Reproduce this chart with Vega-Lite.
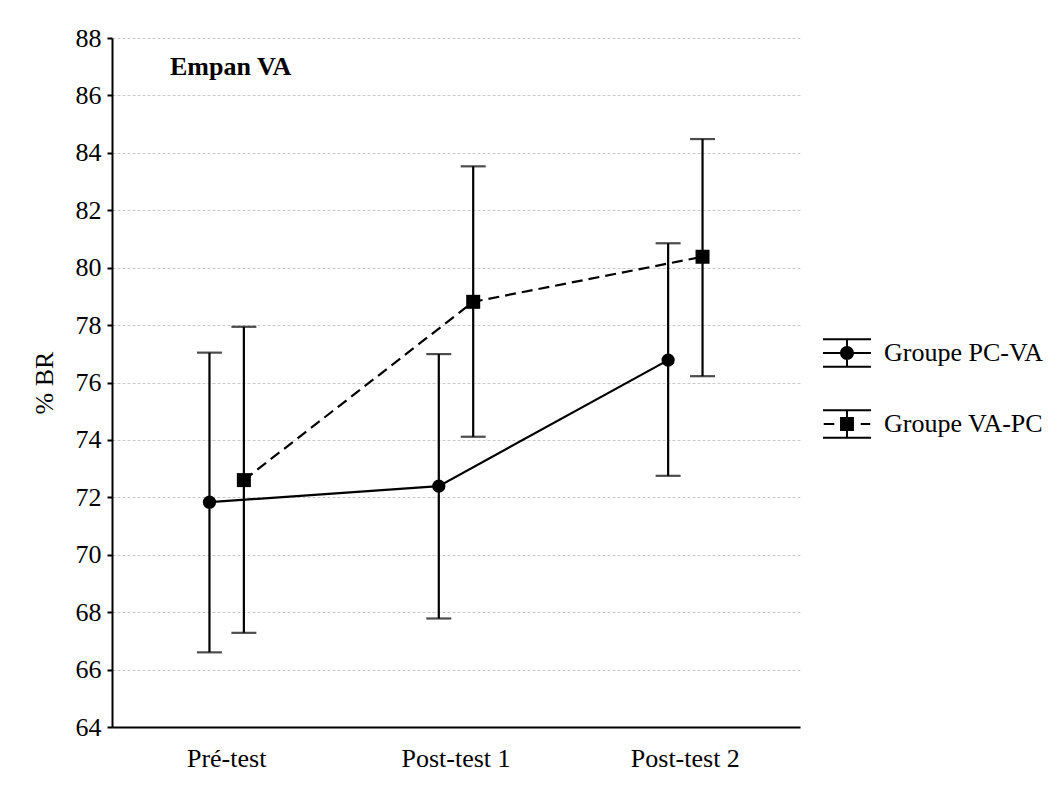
{
  "$schema": "https://vega.github.io/schema/vega-lite/v6.json",
  "width": 688,
  "height": 689,
  "autosize": "none",
  "padding": {"left": 112, "top": 38, "right": 261, "bottom": 69},
  "background": "white",
  "title": {
    "text": "Empan VA",
    "anchor": "start",
    "frame": "group",
    "font": "Liberation Serif",
    "fontSize": 26,
    "fontWeight": "bold",
    "color": "black",
    "baseline": "alphabetic",
    "offset": 0,
    "dx": 58,
    "dy": 76
  },
  "data": {
    "values": [
      {"test": "Pré-test", "group": "Groupe PC-VA", "mean": 71.83, "lo": 66.6, "hi": 77.04},
      {"test": "Post-test 1", "group": "Groupe PC-VA", "mean": 72.39, "lo": 67.78, "hi": 76.99},
      {"test": "Post-test 2", "group": "Groupe PC-VA", "mean": 76.78, "lo": 72.75, "hi": 80.85},
      {"test": "Pré-test", "group": "Groupe VA-PC", "mean": 72.6, "lo": 67.28, "hi": 77.94},
      {"test": "Post-test 1", "group": "Groupe VA-PC", "mean": 78.81, "lo": 74.11, "hi": 83.53},
      {"test": "Post-test 2", "group": "Groupe VA-PC", "mean": 80.38, "lo": 76.22, "hi": 84.48}
    ]
  },
  "encoding": {
    "x": {
      "field": "test",
      "type": "nominal",
      "sort": ["Pré-test", "Post-test 1", "Post-test 2"],
      "scale": {"paddingInner": 0.7, "paddingOuter": 0.35},
      "axis": {
        "title": null,
        "labelAngle": 0,
        "labelFont": "Liberation Serif",
        "labelFontSize": 26,
        "labelColor": "black",
        "labelPadding": 18,
        "ticks": false,
        "domainColor": "black",
        "domainWidth": 2,
        "grid": false
      }
    },
    "xOffset": {
      "field": "group",
      "type": "nominal",
      "sort": ["Groupe PC-VA", "Groupe VA-PC"],
      "scale": {"paddingInner": 0, "paddingOuter": 0}
    }
  },
  "layer": [
    {
      "transform": [{"filter": "datum.group === 'Groupe PC-VA'"}],
      "mark": {"type": "line", "color": "black", "strokeWidth": 2.2},
      "encoding": {
        "y": {
          "field": "mean",
          "type": "quantitative",
          "scale": {"domain": [64, 88], "nice": false, "zero": false},
          "axis": {
            "title": "% BR",
            "titleFont": "Liberation Serif",
            "titleFontSize": 26,
            "titleFontWeight": "normal",
            "titleColor": "black",
            "titlePadding": 18,
            "values": [64, 66, 68, 70, 72, 74, 76, 78, 80, 82, 84, 86, 88],
            "labelFont": "Liberation Serif",
            "labelFontSize": 26,
            "labelColor": "black",
            "labelPadding": 6,
            "tickColor": "black",
            "tickWidth": 2,
            "tickSize": 5,
            "domainColor": "black",
            "domainWidth": 2,
            "grid": true,
            "gridColor": "#c8c8c8",
            "gridDash": [3, 2],
            "gridWidth": 1
          }
        }
      }
    },
    {
      "transform": [{"filter": "datum.group === 'Groupe VA-PC'"}],
      "mark": {"type": "line", "color": "black", "strokeWidth": 2.2, "strokeDash": [11, 6]},
      "encoding": {"y": {"field": "mean", "type": "quantitative"}}
    },
    {
      "mark": {"type": "rule", "color": "black", "strokeWidth": 2.2},
      "encoding": {
        "y": {"field": "lo", "type": "quantitative"},
        "y2": {"field": "hi"}
      }
    },
    {
      "mark": {"type": "tick", "color": "black", "thickness": 2.2, "size": 25, "orient": "horizontal"},
      "encoding": {"y": {"field": "lo", "type": "quantitative"}}
    },
    {
      "mark": {"type": "tick", "color": "black", "thickness": 2.2, "size": 25, "orient": "horizontal"},
      "encoding": {"y": {"field": "hi", "type": "quantitative"}}
    },
    {
      "transform": [{"filter": "datum.group === 'Groupe PC-VA'"}],
      "mark": {"type": "point", "shape": "circle", "filled": true, "color": "black", "opacity": 1, "size": 175},
      "encoding": {"y": {"field": "mean", "type": "quantitative"}}
    },
    {
      "transform": [{"filter": "datum.group === 'Groupe VA-PC'"}],
      "mark": {"type": "point", "shape": "square", "filled": true, "color": "black", "opacity": 1, "size": 196},
      "encoding": {"y": {"field": "mean", "type": "quantitative"}}
    },
    {
      "mark": {"type": "point", "filled": true, "color": "black", "opacity": 0, "size": 100},
      "encoding": {
        "y": {"field": "mean", "type": "quantitative"},
        "shape": {
          "field": "group",
          "type": "nominal",
          "scale": {
            "domain": ["Groupe PC-VA", "Groupe VA-PC"],
            "range": [
              "M-1,-0.61H1V-0.53H-1ZM-1,0.53H1V0.61H-1ZM-1,-0.04H1V0.04H-1ZM-0.04,-0.57H0.04V0.57H-0.04ZM0.29,0A0.29,0.29 0 1,1 -0.29,0A0.29,0.29 0 1,1 0.29,0Z",
              "M-1,-0.61H1V-0.53H-1ZM-1,0.53H1V0.61H-1ZM-0.97,-0.04H-0.53V0.04H-0.97ZM0.57,-0.04H0.97V0.04H0.57ZM-0.04,-0.57H0.04V0.57H-0.04ZM-0.29,-0.29H0.29V0.29H-0.29Z"
            ]
          },
          "legend": {
            "title": null,
            "orient": "none",
            "legendX": 710,
            "legendY": 290,
            "symbolSize": 2304,
            "symbolOpacity": 1,
            "symbolFillColor": "black",
            "labelFont": "Liberation Serif",
            "labelFontSize": 26,
            "labelColor": "black",
            "labelOffset": 12,
            "rowPadding": 28,
            "labelLimit": 300
          }
        }
      }
    }
  ],
  "config": {
    "view": {"stroke": null},
    "font": "Liberation Serif"
  }
}
